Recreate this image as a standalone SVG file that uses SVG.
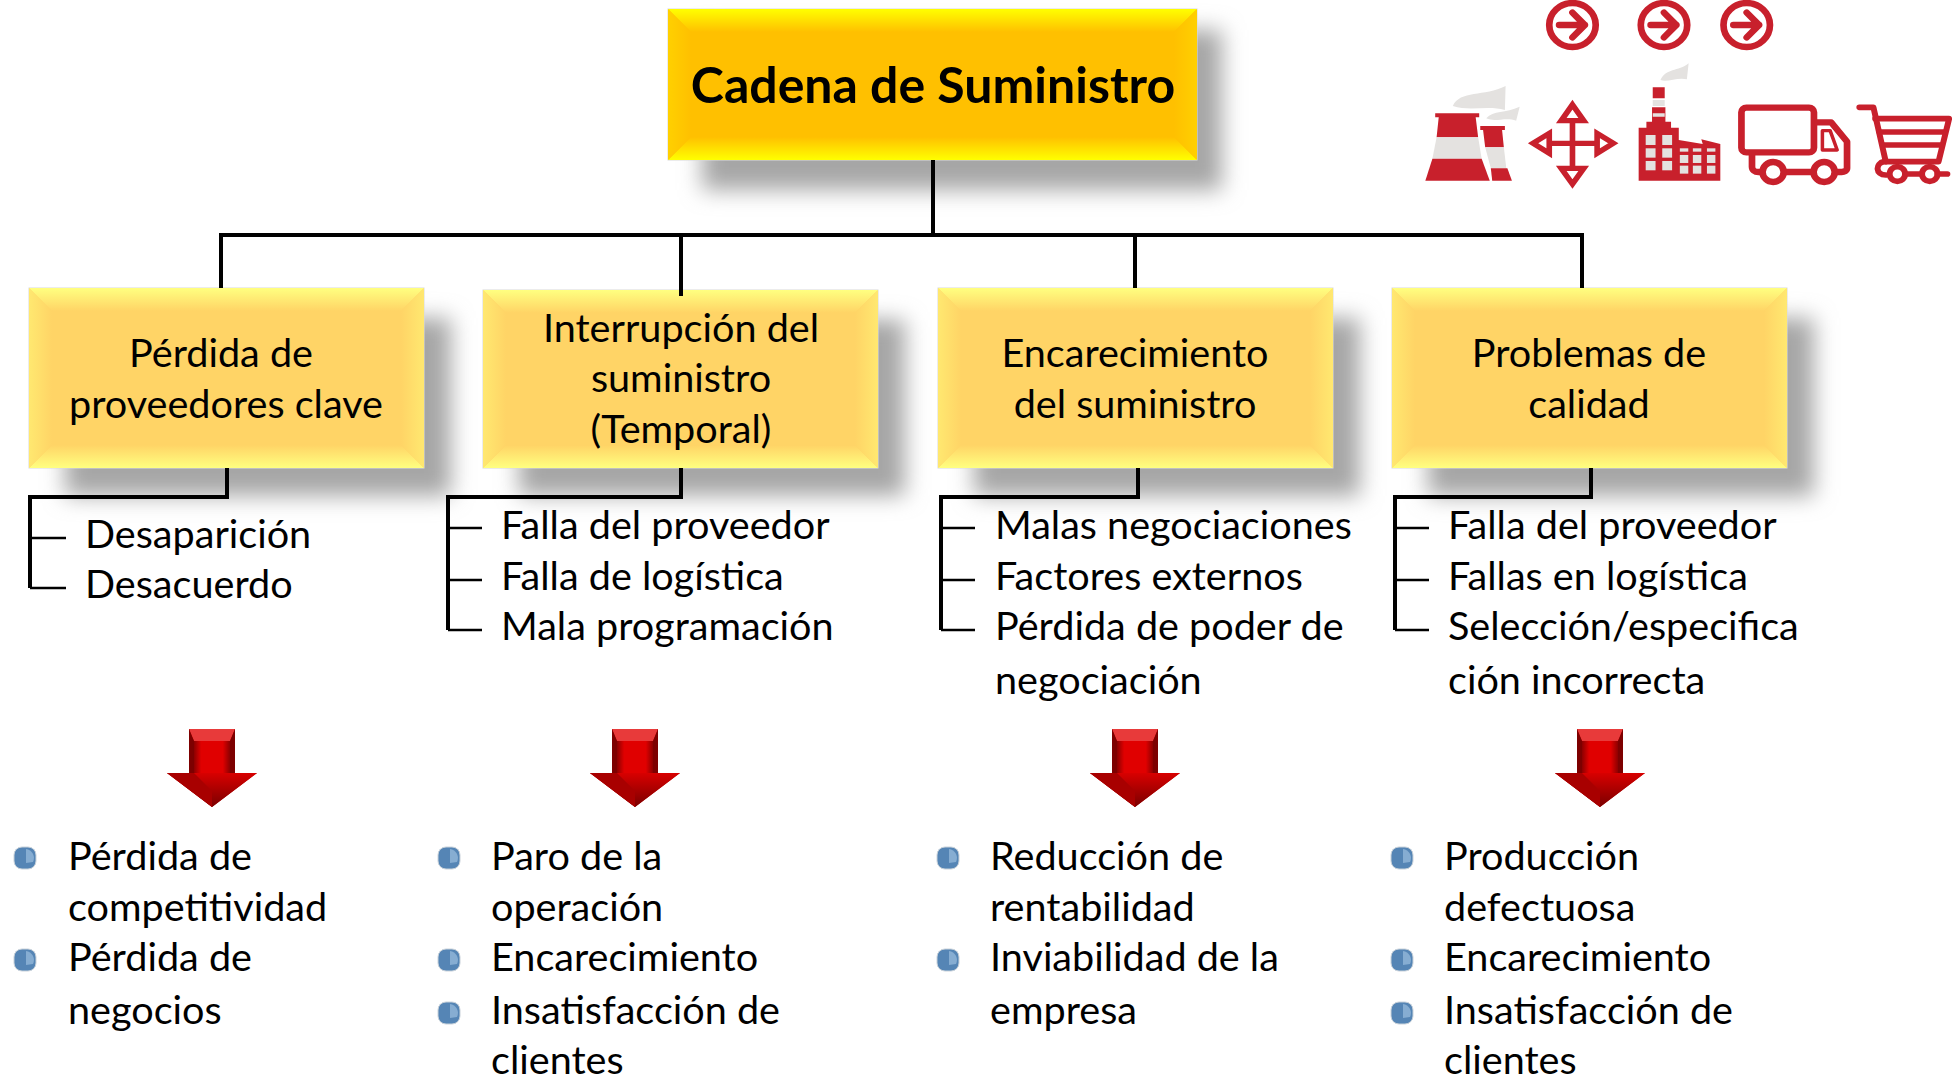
<svg xmlns="http://www.w3.org/2000/svg" width="1952" height="1077" viewBox="0 0 1952 1077">
<style>
text{font-family:Lato,"Liberation Sans",sans-serif;fill:#000;font-size:39.6px}
.c{text-anchor:middle}
.t{font-size:50px;font-weight:700}
.ln{fill:none;stroke:#000;stroke-width:4}
.tk{fill:none;stroke:#000;stroke-width:2.5}
.r{fill:#c8202c}
.rs{fill:none;stroke:#c8202c}
.g{fill:#e4e2e0}
</style>
<defs>
<filter id="blur" x="-20%" y="-30%" width="140%" height="160%"><feGaussianBlur stdDeviation="11"/></filter>
<linearGradient id="mT" x1="0" y1="0" x2="0" y2="1"><stop offset="0" stop-color="#ffff00"/><stop offset="1" stop-color="#ffc000"/></linearGradient>
<linearGradient id="mB" x1="0" y1="1" x2="0" y2="0"><stop offset="0" stop-color="#ffff00"/><stop offset="1" stop-color="#ffc000"/></linearGradient>
<linearGradient id="mL" x1="0" y1="0" x2="1" y2="0"><stop offset="0" stop-color="#ffd000"/><stop offset="1" stop-color="#ffc000"/></linearGradient>
<linearGradient id="mR" x1="1" y1="0" x2="0" y2="0"><stop offset="0" stop-color="#ffd000"/><stop offset="1" stop-color="#ffc000"/></linearGradient>
<linearGradient id="sT" x1="0" y1="0" x2="0" y2="1"><stop offset="0" stop-color="#ffff80"/><stop offset="1" stop-color="#ffd466"/></linearGradient>
<linearGradient id="sB" x1="0" y1="1" x2="0" y2="0"><stop offset="0" stop-color="#ffff80"/><stop offset="1" stop-color="#ffd466"/></linearGradient>
<linearGradient id="sL" x1="0" y1="0" x2="1" y2="0"><stop offset="0" stop-color="#ffe870"/><stop offset="1" stop-color="#ffd466"/></linearGradient>
<linearGradient id="sR" x1="1" y1="0" x2="0" y2="0"><stop offset="0" stop-color="#ffe870"/><stop offset="1" stop-color="#ffd466"/></linearGradient>
<linearGradient id="aS" x1="0" y1="0" x2="1" y2="0"><stop offset="0" stop-color="#8d0000"/><stop offset=".2" stop-color="#e00000"/><stop offset=".8" stop-color="#e00000"/><stop offset="1" stop-color="#8d0000"/></linearGradient>
<linearGradient id="aH" x1="0" y1="0" x2="0" y2="1"><stop offset="0" stop-color="#d80000"/><stop offset="1" stop-color="#7a0000"/></linearGradient>
<g id="sub">
<rect x="36" y="30" width="386" height="178" fill="#a6a6a6" filter="url(#blur)"/>
<rect x="0" y="0" width="395" height="180" fill="#ffd466" stroke="#d9d9d9" stroke-width="1"/>
<polygon points="0,0 395,0 372,23 23,23" fill="url(#sT)"/>
<polygon points="0,180 395,180 372,157 23,157" fill="url(#sB)"/>
<polygon points="0,0 23,23 23,157 0,180" fill="url(#sL)"/>
<polygon points="395,0 372,23 372,157 395,180" fill="url(#sR)"/>
</g>
<g id="arrow">
<polygon points="-23,0 23,0 23,44 45,44 0,78 -45,44 -23,44" fill="#c00000"/>
<polygon points="-23,0 23,0 18,12 -18,12" fill="#e83a3a"/>
<polygon points="-23,0 -18,12 -18,44 -23,44" fill="#7d0000"/>
<polygon points="23,0 18,12 18,44 23,44" fill="#7d0000"/>
<rect x="-18" y="12" width="36" height="32" fill="url(#aS)"/>
<polygon points="-45,44 45,44 0,78" fill="url(#aH)"/>
<polygon points="-45,44 -18,44 0,62 0,78" fill="#a80000"/>
</g>
<g id="bul">
<rect x="-11" y="-11" width="22" height="22" rx="8" fill="#5585b5" stroke="#c9d2da" stroke-width="1"/>
<path d="M1,-9 A9,9 0 0 1 8,4 L1,5Z" fill="#86add2"/>
</g>
</defs>

<g id="main">
<rect x="702" y="30" width="520" height="160" fill="#a6a6a6" filter="url(#blur)"/>
<rect x="668" y="9" width="529" height="151" fill="#ffc000" stroke="#d9d9d9" stroke-width="1"/>
<polygon points="668,9 1197,9 1174,32 691,32" fill="url(#mT)"/>
<polygon points="668,160 1197,160 1174,137 691,137" fill="url(#mB)"/>
<polygon points="668,9 691,32 691,137 668,160" fill="url(#mL)"/>
<polygon points="1197,9 1174,32 1174,137 1197,160" fill="url(#mR)"/>
<text class="c t" x="933" y="103">Cadena de Suministro</text>
</g>

<g id="box1"><use href="#sub" transform="translate(29 288)"/>
<text class="c" x="221" y="367">Pérdida de</text><text class="c" x="226" y="418">proveedores clave</text></g>
<g id="box2"><use href="#sub" transform="translate(483 290) scale(1 .989)"/>
<text class="c" x="681" y="342">Interrupción del</text><text class="c" x="681" y="392">suministro</text><text class="c" x="681" y="443">(Temporal)</text></g>
<g id="box3"><use href="#sub" transform="translate(938 288)"/>
<text class="c" x="1135" y="367">Encarecimiento</text><text class="c" x="1135" y="418">del suministro</text></g>
<g id="box4"><use href="#sub" transform="translate(1392 288)"/>
<text class="c" x="1589" y="367">Problemas de</text><text class="c" x="1589" y="418">calidad</text></g>

<g id="connectors">
<path class="ln" d="M933,160V235M221,288V235H1582V288M681,235V296M1135,235V288"/>
<path class="ln" d="M227,468V497H30V588"/>
<path class="tk" d="M30,538H66M30,588H66"/>
<path class="ln" d="M681,468V497H448V630"/>
<path class="tk" d="M448,528H482M448,580H482M448,630H482"/>
<path class="ln" d="M1138,468V497H941V630"/>
<path class="tk" d="M941,528H975M941,580H975M941,630H975"/>
<path class="ln" d="M1591,468V497H1395V630"/>
<path class="tk" d="M1395,528H1429M1395,580H1429M1395,630H1429"/>
</g>

<g id="list1"><text x="85" y="548">Desaparición</text><text x="85" y="598">Desacuerdo</text></g>
<g id="list2"><text x="501" y="539">Falla del proveedor</text><text x="501" y="590">Falla de logística</text><text x="501" y="640">Mala programación</text></g>
<g id="list3"><text x="995" y="539">Malas negociaciones</text><text x="995" y="590">Factores externos</text><text x="995" y="640">Pérdida de poder de</text><text x="995" y="694">negociación</text></g>
<g id="list4"><text x="1448" y="539">Falla del proveedor</text><text x="1448" y="590">Fallas en logística</text><text x="1448" y="640">Selección/especifica</text><text x="1448" y="694">ción incorrecta</text></g>

<g id="arrow1"><use href="#arrow" transform="translate(212 729)"/></g>
<g id="arrow2"><use href="#arrow" transform="translate(635 729)"/></g>
<g id="arrow3"><use href="#arrow" transform="translate(1135 729)"/></g>
<g id="arrow4"><use href="#arrow" transform="translate(1600 729)"/></g>

<g id="effects1"><use href="#bul" transform="translate(25 858)"/><use href="#bul" transform="translate(25 960)"/>
<text x="68" y="870">Pérdida de</text><text x="68" y="921">competitividad</text><text x="68" y="971">Pérdida de</text><text x="68" y="1024">negocios</text></g>
<g id="effects2"><use href="#bul" transform="translate(449 858)"/><use href="#bul" transform="translate(449 960)"/><use href="#bul" transform="translate(449 1013)"/>
<text x="491" y="870">Paro de la</text><text x="491" y="921">operación</text><text x="491" y="971">Encarecimiento</text><text x="491" y="1024">Insatisfacción de</text><text x="491" y="1074">clientes</text></g>
<g id="effects3"><use href="#bul" transform="translate(948 858)"/><use href="#bul" transform="translate(948 960)"/>
<text x="990" y="870">Reducción de</text><text x="990" y="921">rentabilidad</text><text x="990" y="971">Inviabilidad de la</text><text x="990" y="1024">empresa</text></g>
<g id="effects4"><use href="#bul" transform="translate(1402 858)"/><use href="#bul" transform="translate(1402 960)"/><use href="#bul" transform="translate(1402 1013)"/>
<text x="1444" y="870">Producción</text><text x="1444" y="921">defectuosa</text><text x="1444" y="971">Encarecimiento</text><text x="1444" y="1024">Insatisfacción de</text><text x="1444" y="1074">clientes</text></g>

<g id="icons" transform="translate(1400 0) scale(.3520 .3333)">
<g id="circles" class="rs" stroke-width="19" stroke-linecap="round" stroke-linejoin="round">
<circle cx="490" cy="75" r="66"/><path d="M452,75H525M490,38L525,75L490,112"/>
<circle cx="750" cy="75" r="66"/><path d="M712,75H785M750,38L785,75L750,112"/>
<circle cx="985" cy="75" r="66"/><path d="M947,75H1020M985,38L1020,75L985,112"/>
</g>
<g id="towers">
<path class="g" d="M150,318C170,270 240,290 300,258L298,330C250,315 200,335 150,318Z"/>
<path class="g" d="M245,355C265,330 300,340 340,320L330,362C300,350 270,368 245,355Z"/>
<path class="r" d="M100,340H225V352H215L222,412H104L110,352H100Z"/>
<path class="g" d="M104,412H222L232,476H92Z"/>
<path class="r" d="M92,476H232L255,542H72Z"/>
<path class="r" d="M228,378H298V390H290L295,442H242L236,390H228Z"/>
<path class="g" d="M242,442H295L302,505H258Z"/>
<path class="r" d="M258,505H305L318,542H262Z"/>
</g>
<g id="cross" class="rs" stroke-width="16">
<path d="M490,360V505M425,430H555"/>
<polygon points="490,314 522,362 458,362"/><polygon points="490,552 522,505 458,505"/>
<polygon points="378,430 424,400 424,460"/><polygon points="606,430 560,400 560,460"/>
</g>
<g id="factory">
<path class="g" d="M740,240C755,205 790,215 820,190L815,238C790,230 760,248 740,240Z"/>
<path class="r" d="M718,262H752V295H718ZM716,322H754V365H770V383H792V420L860,432L856,418L910,432V542H678V383H700V365H716Z"/>
<path class="g" d="M718,300H752V318H718ZM718,340H752V350H718Z"/>
<g class="g"><rect x="698" y="405" width="28" height="30"/><rect x="745" y="405" width="28" height="30"/><rect x="698" y="445" width="28" height="28"/><rect x="745" y="445" width="28" height="28"/><rect x="698" y="483" width="28" height="28"/><rect x="745" y="483" width="28" height="28"/><rect x="795" y="465" width="24" height="24"/><rect x="832" y="465" width="24" height="24"/><rect x="872" y="465" width="24" height="24"/><rect x="795" y="497" width="24" height="24"/><rect x="832" y="497" width="24" height="24"/><rect x="872" y="497" width="24" height="24"/><rect x="795" y="445" width="24" height="10"/><rect x="832" y="445" width="24" height="10"/><rect x="872" y="445" width="24" height="10"/></g>
</g>
<g id="truck" class="rs" stroke-width="19" stroke-linejoin="round">
<rect x="970" y="323" width="206" height="134" rx="14"/>
<path d="M1178,367H1225L1270,425V505C1270,512 1262,516 1255,516H1240M1000,457V500C1000,510 1008,516 1018,516H1025M1095,516H1170"/>
<path stroke-width="10" d="M1200,392H1222L1242,450H1200Z"/>
<circle cx="1060" cy="516" r="30"/><circle cx="1205" cy="516" r="30"/>
</g>
<g id="cart" class="rs" stroke-width="17" stroke-linejoin="round" stroke-linecap="round">
<path d="M1305,322H1345L1380,485"/>
<path d="M1350,356H1560L1530,485H1375C1350,490 1350,525 1380,525"/>
<path d="M1362,396H1545M1372,435H1540"/>
<circle cx="1413" cy="522" r="22"/><circle cx="1505" cy="522" r="22"/><path d="M1435,522H1483M1527,522H1555"/>
</g>
</g>
</svg>
